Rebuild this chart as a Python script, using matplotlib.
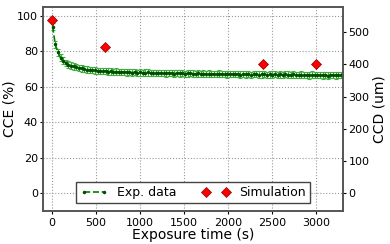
import matplotlib
matplotlib.use("Agg")
import matplotlib.pyplot as plt

# exposure time (s) and measured CCE (%)
exp_time = [10, 40, 70, 100, 130, 160, 190, 220, 250, 280,
            310, 340, 370, 400, 430, 460, 490, 520, 550, 580,
            610, 640, 670, 700, 730, 760, 790, 820, 850, 880,
            910, 940, 970, 1000, 1030, 1060, 1090, 1120, 1150, 1180,
            1210, 1240, 1270, 1300, 1330, 1360, 1390, 1420, 1450, 1480,
            1510, 1540, 1570, 1600, 1630, 1660, 1690, 1720, 1750, 1780,
            1810, 1840, 1870, 1900, 1930, 1960, 1990, 2020, 2050, 2080,
            2110, 2140, 2170, 2200, 2230, 2260, 2290, 2320, 2350, 2380,
            2410, 2440, 2470, 2500, 2530, 2560, 2590, 2620, 2650, 2680,
            2710, 2740, 2770, 2800, 2830, 2860, 2890, 2920, 2950, 2980,
            3010, 3040, 3070, 3100, 3130, 3160, 3190, 3220, 3250, 3280]
exp_cce = [94.0, 84.0, 79.5, 76.5, 74.8, 73.5, 72.6, 72.0, 71.5, 71.1,
           70.7, 70.4, 70.1, 69.8, 69.6, 69.4, 69.3, 69.1, 69.0, 68.8,
           68.9, 68.6, 68.7, 68.5, 68.6, 68.3, 68.5, 68.4, 68.2, 68.4,
           68.1, 68.3, 68.0, 68.2, 67.9, 68.1, 68.2, 67.8, 68.0, 67.9,
           67.7, 68.0, 67.8, 67.6, 67.9, 67.7, 67.5, 67.8, 67.6, 67.7,
           67.4, 67.6, 67.8, 67.5, 67.3, 67.6, 67.4, 67.5, 67.2, 67.5,
           67.3, 67.4, 67.1, 67.5, 67.2, 67.3, 67.0, 67.4, 67.2, 67.1,
           67.3, 66.9, 67.2, 67.0, 67.3, 66.8, 67.1, 67.2, 66.9, 67.0,
           67.2, 66.8, 67.0, 66.9, 67.1, 66.7, 67.0, 66.8, 67.1, 66.9,
           66.7, 67.0, 66.8, 66.6, 66.9, 66.7, 66.8, 66.5, 66.9, 66.7,
           66.6, 66.8, 66.5, 66.7, 66.4, 66.8, 66.6, 66.5, 66.7, 66.6]
exp_err = 1.8

# simulated CCD (um)
sim_time = [0, 600, 2400, 3000]
sim_ccd = [538, 455, 400, 400]

fig = plt.figure(figsize=(3.9, 2.44), dpi=100)
ax = fig.add_axes([0.110, 0.135, 0.769, 0.836])
ax2 = ax.twinx()

ax.errorbar(exp_time, exp_cce, yerr=exp_err, fmt="none", ecolor="#3fae3f",
            elinewidth=0.8, capsize=1.6, capthick=0.8, zorder=2)
line_exp, = ax.plot(exp_time, exp_cce, "--", color="green", lw=1.2,
                    marker=".", ms=3, mfc="#004d00", mec="#004d00",
                    label="Exp. data", zorder=3)
line_sim, = ax2.plot(sim_time, sim_ccd, "D", color="red", mec="#8b0000",
                     mew=0.5, ms=5.5, label="Simulation")

ax.set_xlim(-100, 3300)
ax.set_ylim(-10, 105)
ax2.set_ylim(-55, 577.5)
ax.set_xticks(range(0, 3001, 500))
ax.set_yticks(range(0, 101, 20))
ax2.set_yticks(range(0, 501, 100))

ax.grid(True, linestyle=":", color="#999999", lw=0.8)
ax.tick_params(axis="x", direction="out", labelsize=8, length=2, pad=3)
ax.tick_params(axis="y", direction="out", labelsize=8, length=2, pad=1.5)
ax2.tick_params(direction="out", labelsize=8, length=2, pad=2)
for a in (ax, ax2):
    for s in a.spines.values():
        s.set_color("#555555")
        s.set_linewidth(1.2)

ax.set_xlabel("Exposure time (s)", fontsize=10, labelpad=0)
ax.set_ylabel("CCE (%)", fontsize=10, labelpad=0.5)
ax2.set_ylabel("CCD (um)", fontsize=10, labelpad=2)

leg = ax2.legend([line_exp, line_sim], ["Exp. data", "Simulation"], ncol=2,
                 loc="lower center", bbox_to_anchor=(0.50, 0.01), fontsize=9,
                 numpoints=2, fancybox=False, framealpha=1, edgecolor="#444444",
                 handlelength=2.2, columnspacing=2.0, borderpad=0.3)

fig.savefig("out.png", dpi=100)
